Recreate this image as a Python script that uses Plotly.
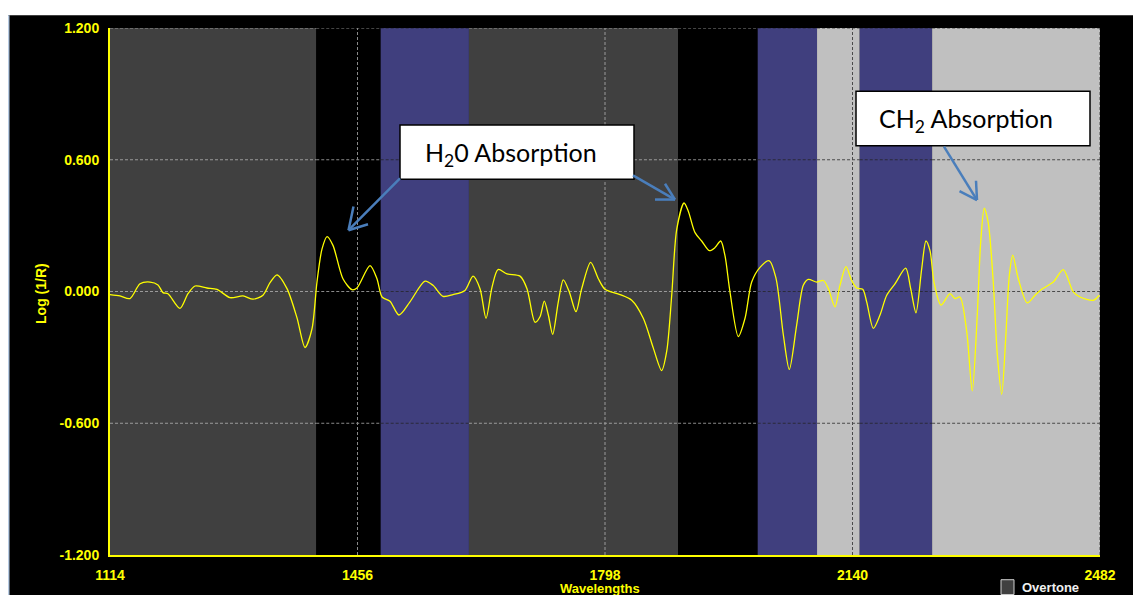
import plotly.graph_objects as go

# ---------------- data ----------------
wavelengths = [1114.0, 1127.8, 1141.6, 1155.5, 1169.3, 1180.3, 1187.2, 1194.1, 1210.7, 1221.8,
               1231.5, 1248.0, 1261.9, 1279.8, 1297.8, 1311.6, 1325.4, 1335.1, 1344.8, 1358.6,
               1372.4, 1383.5, 1393.1, 1400.0, 1406.9, 1413.9, 1422.1, 1435.9, 1448.4, 1455.3,
               1473.3, 1482.9, 1489.9, 1500.9, 1513.3, 1528.5, 1549.3, 1560.3, 1574.1, 1588.0,
               1604.5, 1615.6, 1625.3, 1633.6, 1641.9, 1650.2, 1662.6, 1680.6, 1690.2, 1701.3,
               1708.2, 1714.1, 1719.7, 1725.7, 1733.5, 1740.4, 1748.7, 1757.9, 1765.8, 1778.2,
               1788.8, 1798.0, 1818.7, 1834.9, 1850.9, 1864.8, 1876.3, 1883.3, 1890.2, 1897.1,
               1907.2, 1913.1, 1922.4, 1931.6, 1942.1, 1950.0, 1957.9, 1963.8, 1970.7, 1982.2,
               1991.5, 2000.7, 2012.2, 2025.0, 2034.3, 2044.4, 2052.7, 2062.9, 2072.0, 2078.9,
               2090.5, 2099.7, 2106.6, 2115.8, 2122.7, 2131.0, 2138.9, 2145.8, 2154.1, 2159.6,
               2168.8, 2178.0, 2187.3, 2198.7, 2213.5, 2220.4, 2227.7, 2235.6, 2241.5, 2247.1,
               2252.6, 2262.3, 2274.7, 2281.6, 2288.5, 2297.8, 2305.5, 2312.4, 2317.1, 2322.1,
               2327.6, 2334.5, 2340.1, 2346.2, 2351.7, 2356.7, 2361.4, 2369.1, 2381.5, 2392.2,
               2401.4, 2417.5, 2431.3, 2445.1, 2454.4, 2472.7, 2481.0]
log_1_r = [-0.014, -0.020, -0.032, 0.035, 0.043, 0.030, -0.005, -0.010, -0.077, -0.010,
           0.025, 0.016, 0.010, -0.028, -0.020, -0.035, -0.017, 0.040, 0.076, 0.013,
           -0.120, -0.255, -0.170, 0.043, 0.193, 0.250, 0.210, 0.058, 0.008, 0.016,
           0.118, 0.058, -0.025, -0.044, -0.107, -0.047, 0.047, 0.028, -0.022, -0.014,
           0.005, 0.070, 0.013, -0.122, 0.020, 0.100, 0.080, 0.070, 0.013, -0.140,
           -0.115, -0.044, -0.107, -0.195, -0.047, 0.053, -0.002, -0.092, 0.013, 0.133,
           0.058, 0.010, -0.014, -0.040, -0.122, -0.258, -0.360, -0.272, -0.017, 0.283,
           0.403, 0.366, 0.268, 0.230, 0.186, 0.200, 0.230, 0.163, -0.002, -0.205,
           -0.122, 0.043, 0.110, 0.140, 0.060, -0.197, -0.355, -0.152, 0.028, 0.055,
           0.043, 0.050, 0.013, -0.070, 0.028, 0.113, 0.050, 0.016, 0.010, -0.047,
           -0.168, -0.107, -0.017, 0.035, 0.106, 0.013, -0.097, 0.103, 0.230, 0.186,
           0.043, -0.062, -0.010, -0.032, -0.025, -0.182, -0.453, -0.107, 0.223, 0.380,
           0.313, 0.043, -0.287, -0.468, -0.213, 0.073, 0.166, 0.058, -0.052, -0.017,
           0.010, 0.043, 0.100, -0.002, -0.025, -0.040, -0.017]

x_ticks = [1114, 1456, 1798, 2140, 2482]
y_ticks = [-1.2, -0.6, 0.0, 0.6, 1.2]
band_edges = [1114, 1399, 1488, 1610, 1899, 2009, 2091, 2150, 2250, 2482]
band_kinds = ["dark", "black", "blue", "dark", "black", "blue", "light", "blue", "light"]
annotation_texts = ["H<sub>2</sub>0 Absorption", "CH<sub>2</sub> Absorption"]

# ---------------- styling ----------------
OFF = 8                      # page body margin
W, H = 1141 - OFF, 595 - OFF
PL, PR, PT, PB = 110, 1100, 23, 556   # plot area in page pixels
L, T = PL - OFF, PT - OFF
PW, PH = PR - PL, PB - PT
R, B = W - L - PW, H - T - PH

band_fill = {"dark": "#404040", "black": "#000000", "blue": "#403F7E", "light": "#C0C0C0"}
grid_col = {"dark": "#9A9A9A", "black": "#8A8A8A", "blue": "#2A2A3A", "light": "#4A4A4A"}
YEL = "#FFFF00"
ARROW = "#4A7EBB"


def pxx(px):
    return (px - PL) / PW


def pxy(py):
    return (PB - py) / PH


def band_at(x):
    for i in range(len(band_kinds)):
        if band_edges[i] <= x <= band_edges[i + 1]:
            return band_kinds[i]
    return "black"


shapes = []
for i, kind in enumerate(band_kinds):
    shapes.append(dict(type="rect", xref="x", yref="paper", x0=band_edges[i], x1=band_edges[i + 1],
                       y0=0, y1=1, fillcolor=band_fill[kind], line=dict(width=0), layer="below"))
for yv in y_ticks[1:]:
    for i, kind in enumerate(band_kinds):
        shapes.append(dict(type="line", xref="x", yref="y", x0=band_edges[i], x1=band_edges[i + 1],
                           y0=yv, y1=yv, line=dict(color=grid_col[kind], width=1, dash="3px,2px"),
                           layer="below"))
for xv in x_ticks[1:]:
    shapes.append(dict(type="line", xref="x", yref="paper", x0=xv, x1=xv, y0=0, y1=1,
                       line=dict(color=grid_col[band_at(xv - 1)], width=1, dash="3px,2px"),
                       layer="below"))

# white strip at the top and light-blue edge at left of the screenshot
shapes.append(dict(type="rect", xref="paper", yref="paper", x0=-0.2, x1=1.2,
                   y0=pxy(10), y1=pxy(-20), fillcolor="white", line=dict(width=0)))
shapes.append(dict(type="rect", xref="paper", yref="paper", x0=pxx(8), x1=pxx(9.5),
                   y0=pxy(620), y1=pxy(10), fillcolor="#B8CCE4", line=dict(width=0)))

boxes = [(400, 634, 121, 176), (856, 1090, 87, 142)]
for (x0, x1, y0, y1) in boxes:
    shapes.append(dict(type="rect", xref="paper", yref="paper", x0=pxx(x0), x1=pxx(x1),
                       y0=pxy(y1), y1=pxy(y0), fillcolor="white", line=dict(color="black", width=1.5)))

arrows = [
    ((400, 175), (348.5, 227.5), (368, 221.5), (353.5, 203.5)),
    ((633, 172), (675, 196.5), (655, 196.5), (665, 180.5)),
    ((944, 143), (977, 197), (959.5, 188), (976, 177.5)),
]
for tail, head, w1, w2 in arrows:
    for a, b in ((tail, head), (w1, head), (w2, head)):
        shapes.append(dict(type="line", xref="paper", yref="paper", x0=pxx(a[0]), y0=pxy(a[1]),
                           x1=pxx(b[0]), y1=pxy(b[1]), line=dict(color=ARROW, width=2.5)))

shapes.append(dict(type="rect", xref="paper", yref="paper", x0=pxx(1001), x1=pxx(1014),
                   y0=pxy(596), y1=pxy(581), fillcolor="#404040", line=dict(color="#D0D0D0", width=1)))

annotations = [
    dict(xref="paper", yref="paper", x=pxx(511), y=pxy(150), text=annotation_texts[0],
         showarrow=False, font=dict(family="Lato", size=25, color="black"),
         xanchor="center", yanchor="middle"),
    dict(xref="paper", yref="paper", x=pxx(966), y=pxy(116), text=annotation_texts[1],
         showarrow=False, font=dict(family="Lato", size=25, color="black"),
         xanchor="center", yanchor="middle"),
    dict(xref="paper", yref="paper", x=pxx(41), y=pxy(292), text="Log (1/R)", textangle=-90,
         showarrow=False, font=dict(family="Liberation Sans", size=14, color=YEL, weight="bold"),
         xanchor="center", yanchor="middle"),
    dict(xref="paper", yref="paper", x=pxx(600), y=pxy(590), text="Wavelengths",
         showarrow=False, font=dict(family="Liberation Sans", size=13, color=YEL, weight="bold"),
         xanchor="center", yanchor="middle"),
    dict(xref="paper", yref="paper", x=pxx(1020), y=pxy(589), text="Overtone",
         showarrow=False, font=dict(family="Liberation Sans", size=13, color="#F0F0F0", weight="bold"),
         xanchor="left", yanchor="middle"),
]

fig = go.Figure()
fig.add_trace(go.Scatter(x=wavelengths, y=log_1_r, mode="lines",
                         line=dict(color=YEL, width=1.3, shape="spline", smoothing=0.8),
                         hoverinfo="skip", showlegend=False))

tickfont = dict(family="Liberation Sans", size=14, color=YEL, weight="bold")
fig.update_layout(
    width=W, height=H,
    margin=dict(l=L, r=R, t=T, b=B, pad=0),
    paper_bgcolor="black", plot_bgcolor="black",
    shapes=shapes, annotations=annotations, showlegend=False,
    xaxis=dict(range=[x_ticks[0], x_ticks[-1]], tickvals=x_ticks, ticktext=[str(v) for v in x_ticks],
               showgrid=False, zeroline=False, showline=True, linecolor=YEL, linewidth=2,
               ticks="", tickfont=tickfont, ticklabelstandoff=6, fixedrange=True),
    yaxis=dict(range=[y_ticks[0], y_ticks[-1]], tickvals=y_ticks,
               ticktext=["%.3f" % v for v in y_ticks],
               showgrid=False, zeroline=False, showline=True, linecolor=YEL, linewidth=2,
               ticks="", tickfont=tickfont, ticklabelstandoff=6, fixedrange=True),
)

fig.write_html("out.html")
